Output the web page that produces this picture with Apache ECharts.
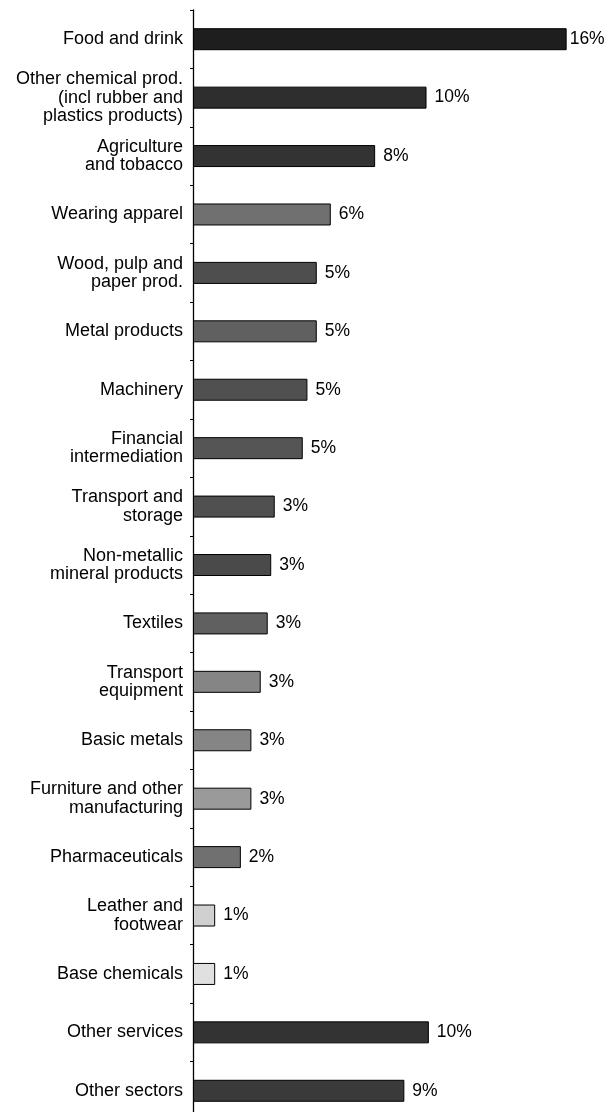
<!DOCTYPE html>
<html>
<head>
<meta charset="utf-8">
<script src="https://cdn.jsdelivr.net/npm/echarts@6/dist/echarts.min.js"></script>
<style>
html,body{margin:0;padding:0;background:#fff;}
#chart{width:607px;height:1112px;}
</style>
</head>
<body>
<div id="chart"></div>
<script>
var categories = [
  "Food and drink",
  "Other chemical prod.\n(incl rubber and\nplastics products)",
  "Agriculture\nand tobacco",
  "Wearing apparel",
  "Wood, pulp and\npaper prod.",
  "Metal products",
  "Machinery",
  "Financial\nintermediation",
  "Transport and\nstorage",
  "Non-metallic\nmineral products",
  "Textiles",
  "Transport\nequipment",
  "Basic metals",
  "Furniture and other\nmanufacturing",
  "Pharmaceuticals",
  "Leather and\nfootwear",
  "Base chemicals",
  "Other services",
  "Other sectors"
];
var values = [16.0, 10.0, 7.8, 5.9, 5.3, 5.3, 4.9, 4.7, 3.5, 3.35, 3.2, 2.9, 2.5, 2.5, 2.05, 0.95, 0.95, 10.1, 9.05];
var valueLabels = ["16%","10%","8%","6%","5%","5%","5%","5%","3%","3%","3%","3%","3%","3%","2%","1%","1%","10%","9%"];
var shades = ["#1e1e1e","#2e2e2e","#333333","#707070","#4e4e4e","#606060","#505050","#555555","#505050","#4a4a4a","#606060","#858585","#858585","#9a9a9a","#707070","#d0d0d0","#e0e0e0","#333333","#3a3a3a"];

var chart = echarts.init(document.getElementById('chart'), null, {renderer:'canvas'});
var font = '"Liberation Sans", Arial, Helvetica, sans-serif';
chart.setOption({
  animation:false,
  backgroundColor:'#fff',
  grid:{left:193, top:10, height:1110, width:397, containLabel:false, outerBoundsMode:'none'},
  xAxis:{type:'value', min:0, max:17, show:false},
  yAxis:{
    type:'category', inverse:true, data:categories,
    axisLine:{show:true, lineStyle:{color:'#000', width:1.3}},
    axisTick:{show:true, length:3, lineStyle:{color:'#000'}},
    axisLabel:{color:'#000', fontSize:18, fontFamily:font, lineHeight:18.5, align:'right', margin:10},
    splitLine:{show:false}
  },
  series:[{
    type:'bar',
    barWidth:22,
    data: values.map(function(v,i){
      var d = {value:v, itemStyle:{color:shades[i]}};
      if (i === 0) d.label = {distance:3};
      return d;
    }),
    itemStyle:{borderColor:'#000', borderWidth:1},
    label:{show:true, position:'right', distance:8, color:'#000', fontSize:17.5, fontFamily:font,
      formatter:function(p){return valueLabels[p.dataIndex];}}
  }]
});
</script>
</body>
</html>
